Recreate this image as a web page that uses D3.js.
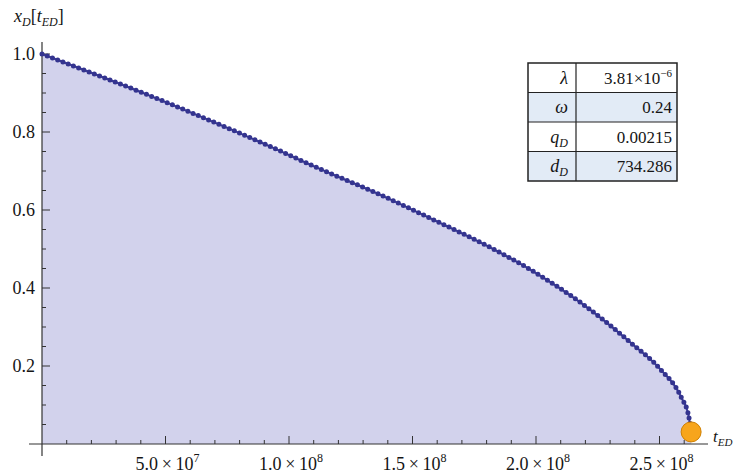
<!DOCTYPE html>
<html>
<head>
<meta charset="utf-8">
<script src="https://cdn.jsdelivr.net/npm/d3@7"></script>
<style>
  body { margin: 0; background: #fff; }
  svg { display: block; }
  svg text { font-family: "Liberation Serif", "Times New Roman", "DejaVu Serif", "Noto Serif", serif; fill: #151515; }
</style>
</head>
<body>
<svg id="chart" width="735" height="474"></svg>
<script>
// ---- data ----
const tValues = [0, 4.41e7, 9.27e7, 1.13e8, 1.352e8, 1.575e8, 1.818e8, 1.98e8, 2.182e8, 2.385e8, 2.506e8, 2.587e8, 2.619e8, 2.628e8];
const xValues = [1.0, 0.892, 0.762, 0.704, 0.644, 0.578, 0.503, 0.446, 0.362, 0.259, 0.190, 0.121, 0.069, 0.031];
const xTicks = [5e7, 1e8, 1.5e8, 2e8, 2.5e8];
const xTickMant = ["5.0", "1.0", "1.5", "2.0", "2.5"];
const xTickExp = ["7", "8", "8", "8", "8"];
const yTicks = [0.2, 0.4, 0.6, 0.8, 1.0];
const tableNames = ["λ", "ω", "q", "d"];
const tableSubs = ["", "", "D", "D"];
const tableValues = ["3.81", "0.24", "0.00215", "734.286"];

const svg = d3.select("#chart");
const x = d3.scaleLinear().domain([0, 5e7]).range([42, 165.5]);
const y = d3.scaleLinear().domain([0, 1]).range([444, 54]);

const data = tValues.map((t, i) => ({ t, v: xValues[i] }));

// fill
const area = d3.area().x(d => x(d.t)).y0(y(0)).y1(d => y(d.v)).curve(d3.curveMonotoneX);
svg.append("path").datum(data).attr("d", area).attr("fill", "#d2d2ec");

// axes
const xAxis = svg.append("g");
xAxis.append("line").attr("x1", 29).attr("x2", 708).attr("y1", y(0)).attr("y2", y(0))
  .attr("stroke", "#333").attr("stroke-width", 1.2);
const xMinor = d3.range(1e7, 2.7e8, 1e7);
xAxis.selectAll(".xm").data(xMinor).enter().append("line")
  .attr("x1", d => x(d)).attr("x2", d => x(d))
  .attr("y1", y(0)).attr("y2", d => y(0) - (xTicks.some(m => Math.abs(m - d) < 1) ? 8 : 4))
  .attr("stroke", "#333").attr("stroke-width", 1);
const xl = xAxis.selectAll(".xl").data(xTicks).enter().append("text")
  .attr("x", d => x(d) + 2).attr("y", 470).attr("text-anchor", "middle").attr("font-size", "18px");
xl.append("tspan").text((d, i) => xTickMant[i] + "\u2009×\u200910");
xl.append("tspan").attr("dy", -8).attr("font-size", "12px").text((d, i) => xTickExp[i]);

const yAxis = svg.append("g");
yAxis.append("line").attr("x1", x(0)).attr("x2", x(0)).attr("y1", 42).attr("y2", 456)
  .attr("stroke", "#333").attr("stroke-width", 1.2);
const yMinor = d3.range(0.05, 1.001, 0.05);
yAxis.selectAll(".ym").data(yMinor).enter().append("line")
  .attr("x1", x(0)).attr("x2", d => x(0) + (Math.abs(d * 5 - Math.round(d * 5)) < 1e-6 ? 8 : 4))
  .attr("y1", d => y(d)).attr("y2", d => y(d))
  .attr("stroke", "#333").attr("stroke-width", 1);
yAxis.selectAll(".yl").data(yTicks).enter().append("text")
  .attr("x", 35).attr("y", d => y(d) + 6).attr("text-anchor", "end").attr("font-size", "18px")
  .text(d => d.toFixed(1));

// axis labels
const yLab = svg.append("text").attr("x", 14).attr("y", 22).attr("font-size", "18px");
yLab.append("tspan").attr("font-style", "italic").text("x");
yLab.append("tspan").attr("font-style", "italic").attr("font-size", "12px").attr("dy", 4).text("D");
yLab.append("tspan").attr("dy", -4).text("[");
yLab.append("tspan").attr("font-style", "italic").text("t");
yLab.append("tspan").attr("font-style", "italic").attr("font-size", "12px").attr("dy", 4).text("ED");
yLab.append("tspan").attr("dy", -4).text("]");

const xLab = svg.append("text").attr("x", 713).attr("y", 442).attr("font-size", "17px");
xLab.append("tspan").attr("font-style", "italic").text("t");
xLab.append("tspan").attr("font-style", "italic").attr("font-size", "11px").attr("dy", 4).text("ED");

// curve
const line = d3.line().x(d => x(d.t)).y(d => y(d.v)).curve(d3.curveMonotoneX);
svg.append("path").datum(data).attr("d", line).attr("fill", "none")
  .attr("stroke", "#3a3a98").attr("stroke-width", 2);
svg.append("path").datum(data).attr("d", line).attr("fill", "none")
  .attr("stroke", "#34348f").attr("stroke-width", 5).attr("stroke-linecap", "round")
  .attr("stroke-dasharray", "0,5.6");

// end point
const last = data[data.length - 1];
svg.append("circle").attr("cx", x(last.t)).attr("cy", y(last.v)).attr("r", 10)
  .attr("fill", "#f7a51c").attr("stroke", "#d08000").attr("stroke-width", 1);

// table
const tx0 = 528, tx1 = 677, tDiv = 576, ty0 = 63, rowH = 29.5;
const tbl = svg.append("g");
tableNames.forEach((n, i) => {
  if (i % 2 === 1) {
    tbl.append("rect").attr("x", tx0).attr("y", ty0 + i * rowH).attr("width", tx1 - tx0).attr("height", rowH)
      .attr("fill", "#e2ebf6");
  }
});
tbl.append("rect").attr("x", tx0).attr("y", ty0).attr("width", tx1 - tx0).attr("height", rowH * 4)
  .attr("fill", "none").attr("stroke", "#222").attr("stroke-width", 1.5);
tbl.append("line").attr("x1", tDiv).attr("x2", tDiv).attr("y1", ty0).attr("y2", ty0 + rowH * 4)
  .attr("stroke", "#222").attr("stroke-width", 1.2);
[1, 2, 3].forEach(i => {
  tbl.append("line").attr("x1", tx0).attr("x2", tx1).attr("y1", ty0 + i * rowH).attr("y2", ty0 + i * rowH)
    .attr("stroke", "#222").attr("stroke-width", 1.2);
});
tableNames.forEach((n, i) => {
  const cy = ty0 + i * rowH + rowH / 2 + 6;
  const t = tbl.append("text").attr("x", 568).attr("y", cy).attr("text-anchor", "end").attr("font-size", "18px");
  t.append("tspan").attr("font-style", "italic").text(n);
  if (tableSubs[i]) t.append("tspan").attr("font-style", "italic").attr("font-size", "12px").attr("dy", 4).text(tableSubs[i]);
  const v = tbl.append("text").attr("x", 672).attr("y", cy).attr("text-anchor", "end").attr("font-size", "17px");
  if (i === 0) {
    v.append("tspan").text(tableValues[i] + "×10");
    v.append("tspan").attr("dy", -7).attr("font-size", "11px").text("−6");
  } else {
    v.text(tableValues[i]);
  }
});
</script>
</body>
</html>
